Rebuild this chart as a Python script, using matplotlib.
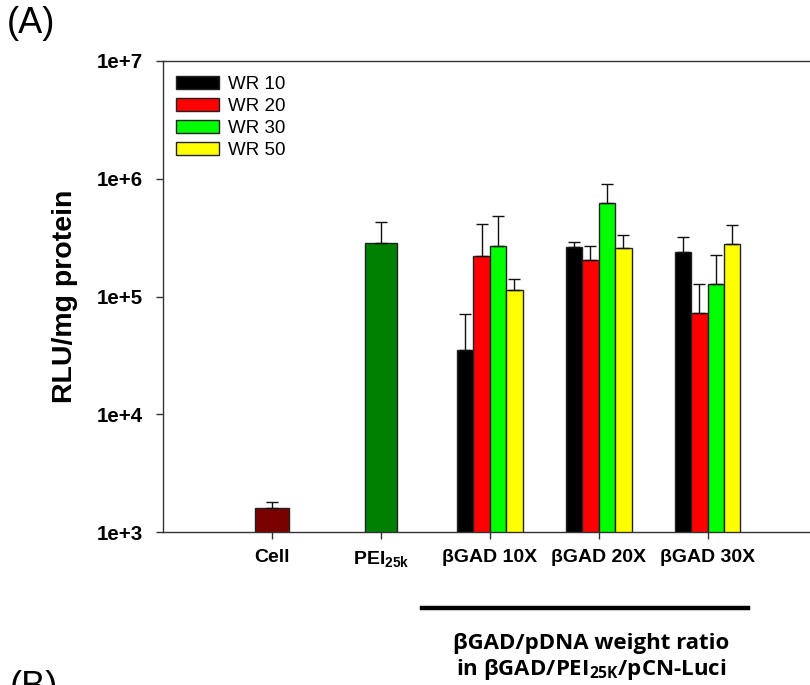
import matplotlib
matplotlib.use("Agg")
import matplotlib.pyplot as plt
import numpy as np
from matplotlib.lines import Line2D
from matplotlib.ticker import FixedLocator, NullLocator

plt.rcParams['mathtext.fontset'] = 'custom'
plt.rcParams['mathtext.bf'] = 'Liberation Sans:bold'
plt.rcParams['mathtext.rm'] = 'Liberation Sans'
plt.rcParams['mathtext.sf'] = 'Open Sans:bold'

# ---- data ----
categories = ['Cell', r'PEI$\mathbf{_{25k}}$', 'βGAD 10X', 'βGAD 20X', 'βGAD 30X']
cell_value = 1590
cell_upper = 1800
pei_value = 286000
pei_upper = 431000
series_names = ['WR 10', 'WR 20', 'WR 30', 'WR 50']
series_colors = ['#000000', '#FF0000', '#00FF00', '#FFFF00']
# values per series across βGAD 10X, 20X, 30X
wr10 = [35300, 265000, 240000]
wr20 = [219000, 203000, 72400]
wr30 = [267000, 627000, 128000]
wr50 = [113000, 256000, 281000]
# upper error bar ends
wr10_up = [71000, 290000, 320000]
wr20_up = [415000, 268000, 128000]
wr30_up = [485000, 908000, 226000]
wr50_up = [141000, 335000, 407000]
yticks = [1e3, 1e4, 1e5, 1e6, 1e7]
ytick_labels = ['1e+3', '1e+4', '1e+5', '1e+6', '1e+7']

W, H = 810, 685
fig = plt.figure(figsize=(W / 100, H / 100), dpi=100)
ax_left, ax_right = 162.7, 816.5
ax = fig.add_axes([ax_left / W, 1 - 532 / H, (ax_right - ax_left) / W, (532 - 61) / H])

ax.set_yscale('log')
ax.set_ylim(1e3, 1e7)
ax.set_xlim(-1.004, 5.0)

ekw = dict(ecolor='#111111', elinewidth=1.0, capsize=4.5, capthick=1.0)
edge = dict(edgecolor='#222222', linewidth=1.0)

# single bars
ax.bar(0, cell_value, width=0.306, color='#7B0000', **edge, zorder=2)
ax.errorbar(0, cell_value, yerr=[[0], [cell_upper - cell_value]], fmt='none', zorder=3, **ekw)
ax.bar(1, pei_value, width=0.30, color='#008000', **edge, zorder=2)
ax.errorbar(1, pei_value, yerr=[[0], [pei_upper - pei_value]], fmt='none', zorder=3, **ekw)

groups = np.array([2, 3, 4])
bw = 0.151
series_vals = [wr10, wr20, wr30, wr50]
series_ups = [wr10_up, wr20_up, wr30_up, wr50_up]
handles = []
for i, (name, col, vals, ups) in enumerate(zip(series_names, series_colors, series_vals, series_ups)):
    x = groups + (i - 1.5) * bw
    b = ax.bar(x, vals, width=bw, color=col, label=name, **edge, zorder=2)
    handles.append(b)
    vals = np.array(vals, float)
    ups = np.array(ups, float)
    ax.errorbar(x, vals, yerr=[np.zeros_like(vals), ups - vals], fmt='none', zorder=3, **ekw)

ax.yaxis.set_major_locator(FixedLocator(yticks))
ax.yaxis.set_minor_locator(NullLocator())
ax.set_yticklabels(ytick_labels, fontfamily='Liberation Sans', fontweight='bold', fontsize=14.8)
ax.set_xticks(range(len(categories)))
ax.set_xticklabels(categories, fontfamily='Liberation Sans', fontweight='bold', fontsize=14)
ax.tick_params(axis='both', direction='out', length=5, width=1, color='#333333')
ax.tick_params(axis='y', pad=9.5)
ax.tick_params(axis='x', pad=7)

for s in ['left', 'bottom', 'top']:
    ax.spines[s].set_color('#333333')
    ax.spines[s].set_linewidth(1.0)
ax.spines['right'].set_visible(False)

ax.set_ylabel('RLU/mg protein', fontfamily='Liberation Sans', fontweight='bold', fontsize=20.5, labelpad=13)

axw = ax_right - ax_left
leg = ax.legend(handles=handles, labels=series_names, loc='upper left',
                bbox_to_anchor=(13.3 / axw, 1 - 15 / 471), frameon=False,
                prop={'family': 'Liberation Sans', 'size': 13.5},
                handlelength=2.3, handleheight=0.71, handletextpad=0.48,
                labelspacing=0.25, borderpad=0, borderaxespad=0)

# panel labels
fig.text(7 / W, 1 - 6 / H, '(A)', fontfamily='Liberation Sans', fontsize=26, va='top', ha='left')
fig.text(10 / W, 1 - 670 / H, '(B)', fontfamily='Liberation Sans', fontsize=26, va='top', ha='left')

# bracket line and description
fig.add_artist(Line2D([422 / W, 748 / W], [1 - 608 / H, 1 - 608 / H], color='black', linewidth=3.2))
fig.text(591 / W, 1 - 643 / H, 'βGAD/pDNA weight ratio', fontfamily='Open Sans', fontweight='bold',
         fontsize=16, ha='center', va='center')
fig.text(591 / W, 1 - 670 / H, r'in βGAD/PEI$\mathsf{_{25K}}$/pCN-Luci', fontfamily='Open Sans',
         fontweight='bold', fontsize=16, ha='center', va='center')

fig.savefig('out.png', dpi=100)
